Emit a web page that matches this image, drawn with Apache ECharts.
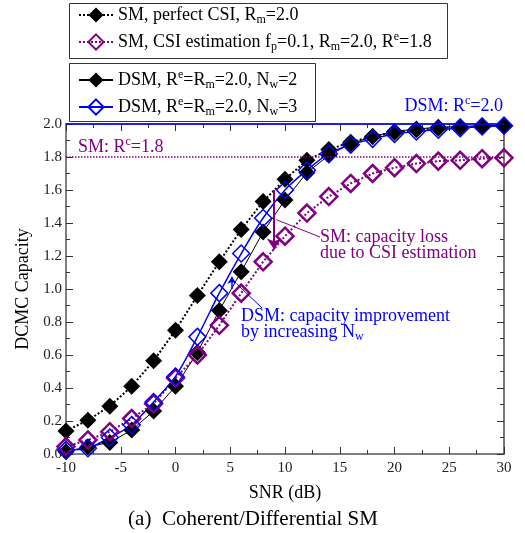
<!DOCTYPE html>
<html>
<head>
<meta charset="UTF-8" />
<title>DCMC Capacity</title>
<style>
  html, body { margin: 0; padding: 0; background: #fff; }
  #chart { width: 525px; height: 533px; }
</style>
<script src="https://cdn.jsdelivr.net/npm/echarts@6/dist/echarts.min.js"></script>
</head>
<body>
<div id="chart"></div>
<script>
  // SNR (dB) sampling points
  var snr = [-10, -8, -6, -4, -2, 0, 2, 4, 6, 8, 10, 12, 14, 16, 18, 20, 22, 24, 26, 28, 30];

  // DCMC capacity
  var smPerfect = [0.14, 0.205, 0.29, 0.41, 0.565, 0.75, 0.96, 1.165, 1.36, 1.53, 1.665, 1.78, 1.845, 1.89, 1.925, 1.95, 1.965, 1.975, 1.98, 1.985, 1.99];
  var smEst = [0.045, 0.085, 0.135, 0.215, 0.305, 0.46, 0.6, 0.78, 0.975, 1.165, 1.32, 1.46, 1.56, 1.64, 1.7, 1.735, 1.76, 1.775, 1.78, 1.79, 1.795];
  var dsm2 = [0.014, 0.044, 0.07, 0.145, 0.26, 0.41, 0.615, 0.87, 1.105, 1.345, 1.54, 1.705, 1.81, 1.88, 1.925, 1.955, 1.97, 1.98, 1.985, 1.99, 1.99];
  var dsm3 = [0.025, 0.035, 0.1, 0.176, 0.315, 0.47, 0.71, 0.975, 1.215, 1.43, 1.6, 1.72, 1.82, 1.875, 1.91, 1.94, 1.955, 1.965, 1.975, 1.985, 1.99];

  // reference rates
  var dsmRate = 2.0;
  var smRate = 1.8;

  var FONT = "'Liberation Serif', 'DejaVu Serif', serif";
  var PURPLE = '#800080';
  var BLUE = '#0000ff';

  function pairs(ys) {
    return snr.map(function (x, i) { return [x, ys[i]]; });
  }

  // rich styles for sub/superscripts (color for echarts text, fill for graphic text)
  function richStyle(size, color) {
    return {
      n: { fontFamily: FONT, fontSize: size, color: color, fill: color, lineHeight: 22 },
      sub: { fontFamily: FONT, fontSize: 12, color: color, fill: color, lineHeight: 12, verticalAlign: 'bottom' },
      sup: { fontFamily: FONT, fontSize: 12, color: color, fill: color, lineHeight: 12, verticalAlign: 'top' }
    };
  }

  var legendText = {
    smPerfect: '{n|SM, perfect CSI, R}{sub|m}{n|=2.0}',
    smEst: '{n|SM, CSI estimation f}{sub|p}{n|=0.1, R}{sub|m}{n|=2.0, R}{sup|e}{n|=1.8}',
    dsm2: '{n|DSM, R}{sup|e}{n|=R}{sub|m}{n|=2.0, N}{sub|w}{n|=2}',
    dsm3: '{n|DSM, R}{sup|e}{n|=R}{sub|m}{n|=2.0, N}{sub|w}{n|=3}'
  };

  function makeLegend(names, top) {
    return {
      data: names,
      orient: 'vertical',
      left: 78,
      top: top,
      padding: 0,
      itemGap: 5,
      itemWidth: 34,
      itemHeight: 19,
      selectedMode: false,
      formatter: function (name) { return legendText[name]; },
      textStyle: { fontFamily: FONT, fontSize: 18, color: '#000', rich: richStyle(18, '#000') }
    };
  }

  var axisLine = { show: true, onZero: false, lineStyle: { color: '#555', width: 1.5 } };
  var tick = { show: true, inside: true, length: 7, lineStyle: { color: '#333' } };
  var minor = { show: true, splitNumber: 2, length: 4, lineStyle: { color: '#333' } };

  var myChart = echarts.init(document.getElementById('chart'));

  var option = {
    animation: false,
    backgroundColor: '#fff',
    grid: { left: 66, right: 21, top: 124, bottom: 79 },
    legend: [makeLegend(['smPerfect', 'smEst'], 6), makeLegend(['dsm2', 'dsm3'], 69)],
    xAxis: [
      {
        type: 'value', min: -10, max: 30, interval: 5,
        name: 'SNR (dB)', nameLocation: 'middle', nameGap: 30,
        nameTextStyle: { fontFamily: FONT, fontSize: 18, color: '#000' },
        axisLine: axisLine, axisTick: tick, minorTick: minor,
        splitLine: { show: false },
        axisLabel: { fontFamily: FONT, fontSize: 15, color: '#222', margin: 7 }
      },
      {
        type: 'value', position: 'top', min: -10, max: 30, interval: 5,
        axisLine: axisLine, axisTick: tick, minorTick: minor,
        splitLine: { show: false }, axisLabel: { show: false }
      }
    ],
    yAxis: [
      {
        type: 'value', min: 0, max: 2, interval: 0.2,
        name: 'DCMC Capacity', nameLocation: 'middle', nameGap: 34,
        nameTextStyle: { fontFamily: FONT, fontSize: 18, color: '#000' },
        axisLine: axisLine, axisTick: tick, minorTick: minor,
        splitLine: { show: false },
        axisLabel: {
          fontFamily: FONT, fontSize: 15, color: '#222', margin: 4,
          formatter: function (v) { return v.toFixed(1); }
        }
      },
      {
        type: 'value', position: 'right', min: 0, max: 2, interval: 0.2,
        axisLine: { show: true, onZero: false, lineStyle: { color: '#777', width: 2 } },
        axisTick: tick, minorTick: minor,
        splitLine: { show: false }, axisLabel: { show: false }
      }
    ],
    series: [
      {
        name: 'smPerfect', type: 'line', data: pairs(smPerfect),
        symbol: 'diamond', symbolSize: 17,
        itemStyle: { color: '#000' },
        lineStyle: { color: '#000', width: 2, type: 'dotted' }
      },
      {
        name: 'dsm2', type: 'line', data: pairs(dsm2),
        symbol: 'diamond', symbolSize: 17,
        itemStyle: { color: '#000' },
        lineStyle: { color: '#000', width: 1 }
      },
      {
        name: 'smEst', type: 'line', data: pairs(smEst),
        symbol: 'diamond', symbolSize: 17,
        itemStyle: { color: 'rgba(255,255,255,0)', borderColor: PURPLE, borderWidth: 2.5 },
        lineStyle: { color: PURPLE, width: 2, type: 'dotted' },
        markLine: {
          silent: true, animation: false, label: { show: false }, symbolSize: 11,
          data: [
            [{ coord: [-10, smRate], symbol: 'none', lineStyle: { color: PURPLE, width: 1.5, type: 'dotted' } },
             { coord: [30, smRate], symbol: 'none' }],
            [{ coord: [9.0, 1.6], symbol: 'none', lineStyle: { color: PURPLE, width: 2, type: 'solid' } },
             { coord: [9.0, 1.24], symbol: 'arrow' }],
            [{ coord: [9.2, 1.42], symbol: 'none', lineStyle: { color: PURPLE, width: 1, type: 'solid' } },
             { coord: [13.2, 1.315], symbol: 'none' }]
          ]
        }
      },
      {
        name: 'dsm3', type: 'line', data: pairs(dsm3), smooth: 0.3,
        symbol: 'diamond', symbolSize: 17,
        itemStyle: { color: 'rgba(255,255,255,0)', borderColor: BLUE, borderWidth: 1.5 },
        lineStyle: { color: BLUE, width: 1.5 },
        markLine: {
          silent: true, animation: false, label: { show: false }, symbolSize: 7,
          data: [
            [{ coord: [-10, dsmRate], symbol: 'none', lineStyle: { color: BLUE, width: 1.5, type: 'solid' } },
             { coord: [30, dsmRate], symbol: 'none' }],
            [{ coord: [5.16, 1.0], symbol: 'none', lineStyle: { color: BLUE, width: 1.5, type: 'solid' } },
             { coord: [5.16, 1.075], symbol: 'arrow' }],
            [{ coord: [5.6, 1.03], symbol: 'none', lineStyle: { color: BLUE, width: 1, type: 'solid' } },
             { coord: [7.9, 0.885], symbol: 'none' }]
          ]
        }
      }
    ],
    graphic: [
      { type: 'rect', z: -1, shape: { x: 69.5, y: 3.5, width: 378, height: 55 },
        style: { fill: '#fff', stroke: '#333', lineWidth: 1 } },
      { type: 'rect', z: -1, shape: { x: 69.5, y: 63.5, width: 246, height: 58 },
        style: { fill: '#fff', stroke: '#333', lineWidth: 1 } },
      { type: 'text', style: { x: 503, y: 106, align: 'right', verticalAlign: 'middle',
        text: '{n|DSM: R}{sup|c}{n|=2.0}', rich: richStyle(18, BLUE) } },
      { type: 'text', style: { x: 78, y: 147, align: 'left', verticalAlign: 'middle',
        text: '{n|SM: R}{sup|c}{n|=1.8}', rich: richStyle(18, PURPLE) } },
      { type: 'text', style: { x: 320, y: 237, align: 'left', verticalAlign: 'middle',
        text: '{n|SM: capacity loss}', rich: richStyle(18, PURPLE) } },
      { type: 'text', style: { x: 320, y: 253, align: 'left', verticalAlign: 'middle',
        text: '{n|due to CSI estimation}', rich: richStyle(18, PURPLE) } },
      { type: 'text', style: { x: 241, y: 316, align: 'left', verticalAlign: 'middle',
        text: '{n|DSM: capacity improvement}', rich: richStyle(18, BLUE) } },
      { type: 'text', style: { x: 241, y: 332, align: 'left', verticalAlign: 'middle',
        text: '{n|by increasing N}{sub|w}', rich: richStyle(18, BLUE) } },
      { type: 'text', style: { x: 253, y: 519, align: 'center', verticalAlign: 'middle',
        text: '(a)  Coherent/Differential SM', fontFamily: FONT, fontSize: 21, fill: '#000' } }
    ]
  };

  myChart.setOption(option);
</script>
</body>
</html>
